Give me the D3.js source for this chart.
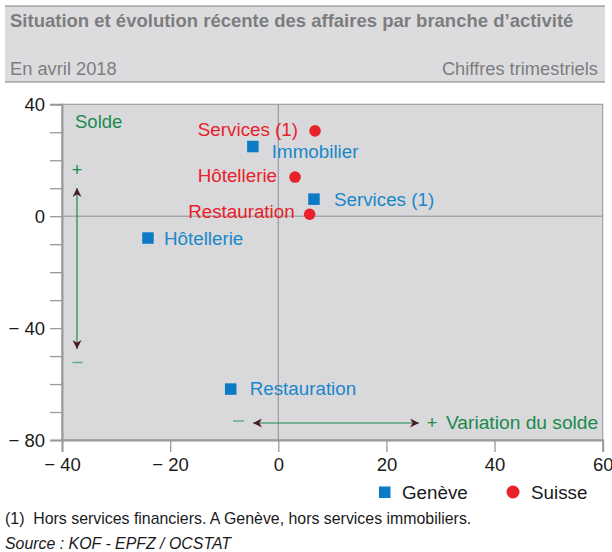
<!DOCTYPE html>
<html><head><meta charset="utf-8">
<script src="https://cdn.jsdelivr.net/npm/d3@7"></script>
<style>
html,body{margin:0;padding:0;background:#fff;}
svg text{font-family:"Liberation Sans",Arial,sans-serif;}
</style></head>
<body><svg id="c" width="612" height="552"></svg>
<script>
// ---- data ----
const genevaNames = ["Immobilier", "Services (1)", "Hôtellerie", "Restauration"];
const genevaX = [-4.7, 6.6, -24.1, -8.8];
const genevaY = [24.9, 6.1, -7.8, -61.8];
const swissNames = ["Services (1)", "Hôtellerie", "Restauration"];
const swissX = [6.8, 3.1, 5.8];
const swissY = [30.5, 14.0, 0.7];
const xTicks = [-40, -20, 0, 20, 40, 60];
const yTicks = [-80, -40, 0, 40];
const yMinor = [-80,-70,-60,-50,-40,-30,-20,-10,0,10,20,30,40];
const legendLabels = ["Genève", "Suisse"];

// ---- layout / style ----
const blue = "#0a7bc4", blueText = "#1a87c9", red = "#e8212b", green = "#198a4c";
const genevaLabelOff = [[19, 11], [20, 7], [16, 7], [19, 6]];
const swissLabelOff = [[-17, 5], [-18, 5], [-15, 4]];
const FS = 18.8;

const svg = d3.select("#c");
const L = 62, R = 602.7, T = 104.3, B = 440;
const x = d3.scaleLinear().domain([-40, 60]).range([L, R]);
const y = d3.scaleLinear().domain([-80, 40]).range([B, T]);
const fmt = d => d < 0 ? "\u2212 " + Math.abs(d) : String(d);

// header band
svg.append("rect").attr("x", 5).attr("y", 6).attr("width", 600).attr("height", 76).attr("fill", "#dcdcde");
svg.append("line").attr("x1", 5).attr("x2", 605).attr("y1", 6).attr("y2", 6).attr("stroke", "#a5a5a7").attr("stroke-width", 1.3);
svg.append("line").attr("x1", 5).attr("x2", 605).attr("y1", 82).attr("y2", 82).attr("stroke", "#a5a5a7").attr("stroke-width", 1.3);
svg.append("text").attr("x", 10).attr("y", 27).attr("fill", "#7d7d7f").attr("font-weight", "bold").attr("font-size", 18.5)
  .text("Situation et évolution récente des affaires par branche d’activité");
svg.append("text").attr("x", 10).attr("y", 75).attr("fill", "#7d7d7f").attr("font-size", 18.3).text("En avril 2018");
svg.append("text").attr("x", 598).attr("y", 75).attr("fill", "#7d7d7f").attr("font-size", 18.3).attr("text-anchor", "end").text("Chiffres trimestriels");

// plot background
svg.append("rect").attr("x", L).attr("y", T).attr("width", R - L).attr("height", B - T).attr("fill", "#d9d9dc")
  .attr("stroke", "#a0a0a2").attr("stroke-width", 1.2);
// zero lines
svg.append("line").attr("x1", x(0)).attr("x2", x(0)).attr("y1", T).attr("y2", B).attr("stroke", "#8f8f91").attr("stroke-width", 1);
svg.append("line").attr("x1", L).attr("x2", R).attr("y1", y(0)).attr("y2", y(0)).attr("stroke", "#8f8f91").attr("stroke-width", 1);

// axes
const yAxis = d3.axisLeft(y).tickValues(yMinor).tickSize(12).tickFormat(d => yTicks.includes(d) ? fmt(d) : "");
const gy = svg.append("g").attr("transform", `translate(${L},0)`).call(yAxis);
const xAxis = d3.axisBottom(x).tickValues(xTicks).tickSize(12).tickFormat(fmt);
const gx = svg.append("g").attr("transform", `translate(0,${B})`).call(xAxis);
[gx, gy].forEach(g => {
  g.select(".domain").attr("stroke", "#9a9a9c").attr("stroke-width", 2);
  g.selectAll(".tick line").attr("stroke", "#9a9a9c").attr("stroke-width", 1.3);
  g.selectAll("text").attr("font-size", 18.5).attr("fill", "#1a1a1a").attr("font-family", "Liberation Sans, Arial, sans-serif");
});
gy.selectAll(".tick line").attr("x2", -12);
gy.selectAll("text").attr("x", -17).attr("dy", "0.36em");
gx.selectAll("text").attr("y", 18).attr("dy", "0.71em");

// arrows
const defs = svg.append("defs");
defs.append("marker").attr("id", "ah").attr("viewBox", "0 0 10 10").attr("refX", 10).attr("refY", 5)
  .attr("markerWidth", 9).attr("markerHeight", 9).attr("markerUnits", "userSpaceOnUse").attr("orient", "auto-start-reverse")
  .append("path").attr("d", "M0,0 L10,5 L0,10 L3,5 Z").attr("fill", "#4a1a28");
svg.append("line").attr("x1", 77).attr("x2", 77).attr("y1", 188).attr("y2", 349).attr("stroke", green).attr("stroke-width", 1.2)
  .attr("marker-start", "url(#ah)").attr("marker-end", "url(#ah)");
svg.append("line").attr("x1", 253).attr("x2", 419).attr("y1", 423).attr("y2", 423).attr("stroke", green).attr("stroke-width", 1.2)
  .attr("marker-start", "url(#ah)").attr("marker-end", "url(#ah)");
svg.append("text").attr("x", 77).attr("y", 176).attr("text-anchor", "middle").attr("fill", green).attr("font-size", 18).text("+");
svg.append("line").attr("x1", 72.5).attr("x2", 82.5).attr("y1", 362.5).attr("y2", 362.5).attr("stroke", "#5fb07e").attr("stroke-width", 1.5);
svg.append("line").attr("x1", 233).attr("x2", 244).attr("y1", 421).attr("y2", 421).attr("stroke", "#5fb07e").attr("stroke-width", 1.5);
svg.append("text").attr("x", 432).attr("y", 429).attr("text-anchor", "middle").attr("fill", green).attr("font-size", 18).text("+");
svg.append("text").attr("x", 446).attr("y", 429).attr("fill", green).attr("font-size", 19.2).text("Variation du solde");
svg.append("text").attr("x", 75).attr("y", 128).attr("fill", green).attr("font-size", 18.5).text("Solde");

// Geneva squares
const sq = 11.5;
genevaNames.forEach((n, i) => {
  const cx = x(genevaX[i]), cy = y(genevaY[i]);
  svg.append("rect").attr("x", cx - sq / 2).attr("y", cy - sq / 2).attr("width", sq).attr("height", sq).attr("fill", blue);
  svg.append("text").attr("x", cx + genevaLabelOff[i][0]).attr("y", cy + genevaLabelOff[i][1]).attr("fill", blueText)
    .attr("font-size", FS).text(n);
});
// Swiss circles
swissNames.forEach((n, i) => {
  const cx = x(swissX[i]), cy = y(swissY[i]);
  svg.append("circle").attr("cx", cx).attr("cy", cy).attr("r", 5.8).attr("fill", red);
  svg.append("text").attr("x", cx + swissLabelOff[i][0]).attr("y", cy + swissLabelOff[i][1]).attr("fill", red)
    .attr("text-anchor", "end").attr("font-size", FS).text(n);
});

// legend
svg.append("rect").attr("x", 379).attr("y", 486.5).attr("width", 11.5).attr("height", 11.5).attr("fill", blue);
svg.append("text").attr("x", 402).attr("y", 499).attr("fill", "#1a1a1a").attr("font-size", 18.8).text(legendLabels[0]);
svg.append("circle").attr("cx", 513).attr("cy", 492).attr("r", 6.5).attr("fill", red);
svg.append("text").attr("x", 531).attr("y", 499).attr("fill", "#1a1a1a").attr("font-size", 18.8).text(legendLabels[1]);

// footnotes
svg.append("text").attr("x", 5).attr("y", 524).attr("fill", "#1a1a1a").attr("font-size", 15.9)
  .attr("xml:space", "preserve").style("white-space", "pre").text("(1)  Hors services financiers. A Genève, hors services immobiliers.");
svg.append("text").attr("x", 5).attr("y", 549).attr("fill", "#1a1a1a").attr("font-size", 15.9).attr("font-style", "italic")
  .text("Source : KOF - EPFZ / OCSTAT");
</script></body></html>
